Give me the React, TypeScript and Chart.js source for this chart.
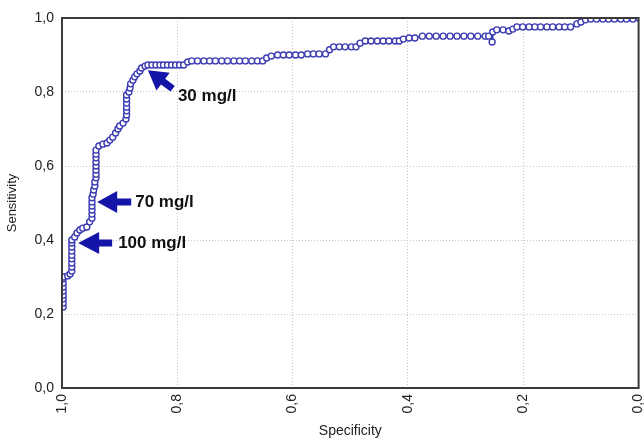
import React, { useEffect, useRef } from "react";
import { Chart, registerables } from "chart.js";

Chart.register(...registerables);

// ROC curve points (specificity, sensitivity)
const specificity: number[] = [
  0.998, 0.998, 0.998, 0.998, 0.998, 0.998, 0.998, 0.998, 0.997, 0.990, 0.986, 0.983,
  0.983, 0.983, 0.983, 0.983, 0.983, 0.983, 0.983, 0.983,
  0.978, 0.974, 0.969, 0.964, 0.957, 0.952,
  0.948, 0.948, 0.948, 0.948, 0.948, 0.948,
  0.946, 0.945, 0.943, 0.943,
  0.941, 0.941, 0.941, 0.941, 0.941, 0.941, 0.941, 0.941,
  0.936, 0.929, 0.922, 0.917, 0.912, 0.907, 0.903, 0.900, 0.894, 0.889,
  0.888, 0.888, 0.888, 0.888, 0.888, 0.888,
  0.884, 0.882, 0.881, 0.877, 0.874, 0.870, 0.865, 0.862, 0.856, 0.851,
  0.844, 0.837, 0.830, 0.824, 0.817, 0.810, 0.803, 0.796, 0.789,
  0.782, 0.775,
  0.765, 0.754, 0.744, 0.734, 0.723, 0.713, 0.702, 0.692, 0.682, 0.671, 0.661, 0.652,
  0.645, 0.637,
  0.626, 0.616, 0.606, 0.595, 0.585,
  0.574, 0.564, 0.554, 0.543,
  0.536, 0.529,
  0.519, 0.509, 0.498, 0.490,
  0.483, 0.474,
  0.464, 0.453, 0.443, 0.433, 0.422, 0.415,
  0.408, 0.398, 0.388, 0.375,
  0.363, 0.351, 0.339, 0.327, 0.315, 0.303, 0.291, 0.279, 0.266, 0.260,
  0.254, 0.253, 0.246, 0.235, 0.225, 0.218, 0.211,
  0.201, 0.190, 0.180, 0.170, 0.159, 0.149, 0.138, 0.128, 0.118,
  0.107, 0.100, 0.092,
  0.083, 0.073, 0.062, 0.052, 0.042, 0.031, 0.021, 0.010, 0.000,
];

const sensitivity: number[] = [
  0.219, 0.230, 0.241, 0.251, 0.262, 0.273, 0.284, 0.295, 0.300, 0.303, 0.308, 0.316,
  0.327, 0.338, 0.349, 0.359, 0.370, 0.381, 0.392, 0.400,
  0.408, 0.419, 0.427, 0.432, 0.435, 0.449,
  0.459, 0.470, 0.481, 0.492, 0.503, 0.514,
  0.524, 0.535, 0.546, 0.557,
  0.568, 0.578, 0.589, 0.600, 0.611, 0.622, 0.632, 0.643,
  0.654, 0.659, 0.662, 0.670, 0.678, 0.689, 0.700, 0.708, 0.716, 0.727,
  0.738, 0.749, 0.759, 0.770, 0.781, 0.792,
  0.800, 0.811, 0.822, 0.832, 0.841, 0.849, 0.857, 0.865, 0.870, 0.873,
  0.873, 0.873, 0.873, 0.873, 0.873, 0.873, 0.873, 0.873, 0.873,
  0.881, 0.884,
  0.884, 0.884, 0.884, 0.884, 0.884, 0.884, 0.884, 0.884, 0.884, 0.884, 0.884, 0.884,
  0.892, 0.897,
  0.900, 0.900, 0.900, 0.900, 0.900,
  0.903, 0.903, 0.903, 0.903,
  0.914, 0.922,
  0.922, 0.922, 0.922, 0.922,
  0.932, 0.938,
  0.938, 0.938, 0.938, 0.938, 0.938, 0.938,
  0.943, 0.946, 0.946, 0.951,
  0.951, 0.951, 0.951, 0.951, 0.951, 0.951, 0.951, 0.951, 0.951, 0.951,
  0.935, 0.962, 0.968, 0.968, 0.965, 0.970, 0.976,
  0.976, 0.976, 0.976, 0.976, 0.976, 0.976, 0.976, 0.976, 0.976,
  0.984, 0.989, 0.995,
  0.997, 0.997, 0.997, 0.997, 0.997, 0.997, 0.997, 0.997, 1.000,
];

const tickValues: number[] = [0, 0.2, 0.4, 0.6, 0.8, 1.0];

// Cut-off markers (label, point on the curve)
const markerLabels: string[] = ["30 mg/l", "70 mg/l", "100 mg/l"];
const markerSpec: number[] = [0.851, 0.939, 0.972];
const markerSens: number[] = [0.859, 0.503, 0.392];

const xTitle = "Specificity";
const yTitle = "Sensitivity";

const fmt = (v: number) => Number(v).toFixed(1).replace(".", ",");

const LINE_COLOR = "#3b3bb3";
const ARROW_COLOR = "#1414a8";

// arrow styling per marker: direction (deg), total length, text offsets
const arrowStyle = [
  { angle: 37, len: 31, head: 19, headHalf: 11, shaftHalf: 3.5, tx: 30, ty: 26 },
  { angle: 0, len: 34, head: 20, headHalf: 11, shaftHalf: 3.5, tx: 38, ty: 0 },
  { angle: 0, len: 34, head: 21, headHalf: 11, shaftHalf: 3.5, tx: 40, ty: 0 },
];

const framePlugin = {
  id: "frameAndArrows",
  afterDatasetsDraw(chart: any) {
    const { ctx, chartArea, scales } = chart;
    ctx.save();
    ctx.strokeStyle = "#3a3a3a";
    ctx.lineWidth = 2;
    ctx.strokeRect(chartArea.left, chartArea.top, chartArea.right - chartArea.left, chartArea.bottom - chartArea.top);

    markerLabels.forEach((label, i) => {
      const st = arrowStyle[i];
      const px = scales.x.getPixelForValue(markerSpec[i]);
      const py = scales.y.getPixelForValue(markerSens[i]);
      ctx.save();
      ctx.translate(px, py);
      ctx.rotate((st.angle * Math.PI) / 180);
      ctx.beginPath();
      ctx.moveTo(0, 0);
      ctx.lineTo(st.head, -st.headHalf);
      ctx.lineTo(st.head, -st.shaftHalf);
      ctx.lineTo(st.len, -st.shaftHalf);
      ctx.lineTo(st.len, st.shaftHalf);
      ctx.lineTo(st.head, st.shaftHalf);
      ctx.lineTo(st.head, st.headHalf);
      ctx.closePath();
      ctx.fillStyle = ARROW_COLOR;
      ctx.fill();
      ctx.restore();

      ctx.fillStyle = "#111";
      ctx.font = "bold 17px 'Liberation Sans', Arial, sans-serif";
      ctx.textAlign = "left";
      ctx.textBaseline = "middle";
      ctx.fillText(label, px + st.tx, py + st.ty);
    });
    ctx.restore();
  },
};

export default function App() {
  const canvasRef = useRef<HTMLCanvasElement | null>(null);

  useEffect(() => {
    document.body.style.margin = "0";
    const canvas = canvasRef.current;
    if (!canvas) return;
    const points = specificity.map((s, i) => ({ x: s, y: sensitivity[i] }));
    const tickFont = { family: "'Liberation Sans', Arial, sans-serif", size: 14 };
    const chart = new Chart(canvas, {
      type: "line",
      data: {
        datasets: [
          {
            data: points,
            borderColor: LINE_COLOR,
            borderWidth: 1.5,
            pointRadius: 3,
            pointBorderWidth: 1.4,
            pointBackgroundColor: "#ffffff",
            pointBorderColor: LINE_COLOR,
            tension: 0,
            fill: false,
          },
        ],
      },
      options: {
        animation: false,
        responsive: false,
        devicePixelRatio: 1,
        layout: { padding: { left: 0, top: 18, right: 4, bottom: 0 } },
        plugins: { legend: { display: false }, tooltip: { enabled: false } },
        scales: {
          x: {
            type: "linear",
            min: 0,
            max: 1,
            reverse: true,
            afterBuildTicks: (scale: any) => {
              scale.ticks = tickValues.map((v) => ({ value: v }));
            },
            afterFit: (scale: any) => {
              scale.height = 52;
              scale.paddingLeft = 0;
              scale.paddingRight = 0;
            },
            ticks: {
              minRotation: 90,
              maxRotation: 90,
              padding: 6,
              color: "#222",
              font: tickFont,
              callback: (v: any) => fmt(v),
            },
            grid: { color: "#c4c4c4", drawTicks: false, lineWidth: 1 },
            border: { display: false, dash: [1, 2] },
            title: {
              display: true,
              text: xTitle,
              color: "#222",
              font: { family: "'Liberation Sans', Arial, sans-serif", size: 14 },
              padding: { top: 0, bottom: 0 },
            },
          },
          y: {
            type: "linear",
            min: 0,
            max: 1,
            afterBuildTicks: (scale: any) => {
              scale.ticks = tickValues.map((v) => ({ value: v }));
            },
            afterFit: (scale: any) => {
              scale.width = 62;
              scale.paddingTop = 0;
              scale.paddingBottom = 0;
            },
            ticks: {
              padding: 8,
              color: "#222",
              font: tickFont,
              callback: (v: any) => fmt(v),
            },
            grid: { color: "#c4c4c4", drawTicks: false, lineWidth: 1 },
            border: { display: false, dash: [1, 2] },
            title: {
              display: true,
              text: yTitle,
              color: "#222",
              font: { family: "'Liberation Sans', Arial, sans-serif", size: 13 },
              padding: { top: 5, bottom: 0 },
            },
          },
        },
      },
      plugins: [framePlugin],
    });
    return () => chart.destroy();
  }, []);

  return (
    <div style={{ width: 644, height: 440 }}>
      <canvas ref={canvasRef} width={644} height={440} style={{ display: "block" }} />
    </div>
  );
}
